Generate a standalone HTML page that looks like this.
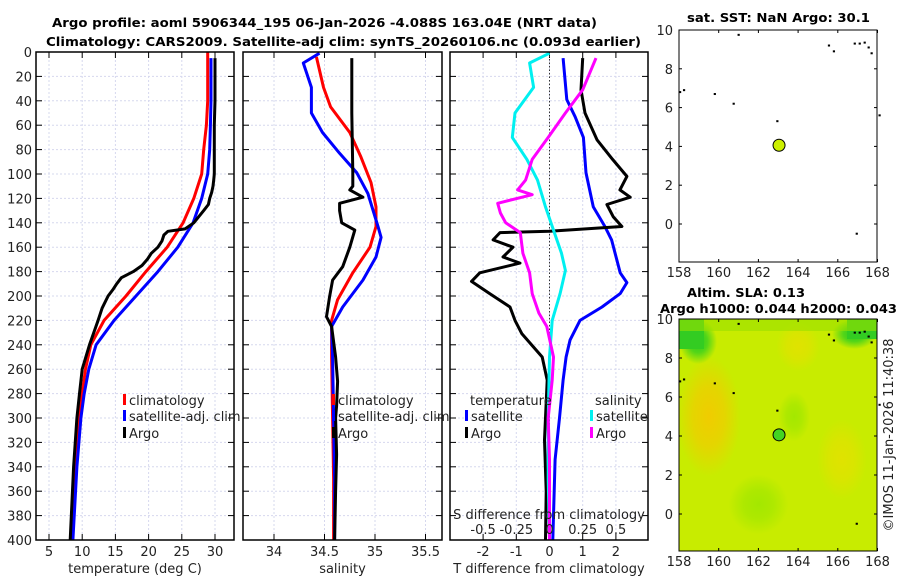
<!DOCTYPE html>
<html><head><meta charset="utf-8">
<style>
body{margin:0;background:#fff;}
svg{display:block;font-family:"DejaVu Sans","Liberation Sans",sans-serif;}
.t{font-size:13px;fill:#222;}
.b{font-weight:bold;font-size:12px;fill:#000;}
</style></head>
<body>
<svg id="fig" width="900" height="580" viewBox="0 0 900 580" xmlns="http://www.w3.org/2000/svg">
<defs>
<clipPath id="clipMap"><rect x="679" y="319" width="198" height="232"/></clipPath>
</defs>
<g>
<text class="b" x="52" y="27" textLength="545" lengthAdjust="spacingAndGlyphs">Argo profile: aoml 5906344_195 06-Jan-2026 -4.088S 163.04E (NRT data)</text>
<text class="b" x="46" y="46" textLength="595" lengthAdjust="spacingAndGlyphs">Climatology: CARS2009. Satellite-adj clim: synTS_20260106.nc (0.093d earlier)</text>
</g>
<g id="layer"></g>
<text class="b" x="687" y="22" textLength="183" lengthAdjust="spacingAndGlyphs">sat. SST: NaN Argo: 30.1</text>
<text class="b" x="687" y="297" textLength="118" lengthAdjust="spacingAndGlyphs">Altim. SLA: 0.13</text>
<text class="b" x="660" y="313" textLength="237" lengthAdjust="spacingAndGlyphs">Argo h1000: 0.044 h2000: 0.043</text>
<text class="t" transform="translate(893,435) rotate(-90)" text-anchor="middle">©IMOS 11-Jan-2026 11:40:38</text>
</svg>
<script>
// ---- data ----
const depthTicks=[0,20,40,60,80,100,120,140,160,180,200,220,240,260,280,300,320,340,360,380,400];
const tempTicks=[5,10,15,20,25,30];
const salTicks=[34,34.5,35,35.5];
const tdiffTicks=[-2,-1,0,1,2];
const sdiffTicks=[-0.5,-0.25,0,0.25,0.5];
const sdiffLabels=["-0.5","-0.25","0","0.25","0.5"];
const lonTicks=[158,160,162,164,166,168];
const latTicks=[0,2,4,6,8,10];

const climDepth=[0,20,40,60,80,100,120,140,160,180,200,220,240,260,280,300,340,400];
const climTemp=[28.9,28.9,28.9,28.7,28.3,28.0,26.8,25.2,22.8,19.6,16.6,13.3,11.3,10.5,10.0,9.6,9.1,8.5];
const satDepth=[5,20,40,60,80,100,120,140,160,180,200,220,240,260,280,300,340,400];
const satTemp=[29.4,29.4,29.4,29.3,29.2,28.9,28.0,26.7,24.4,21.4,18.1,14.8,12.1,11.0,10.3,9.8,9.2,8.6];
const argoTDepth=[5,20,40,60,80,100,105,110,115,120,125,130,140,145,147,150,155,160,165,170,175,180,185,190,195,200,210,220,240,260,280,300,340,400];
const argoTemp=[30.0,30.0,30.0,29.9,29.9,29.9,29.8,29.7,29.5,29.2,29.0,28.3,26.8,25.5,22.9,22.3,22.0,21.4,20.4,19.8,19.0,17.7,15.9,15.2,14.6,13.9,13.0,12.4,11.1,10.0,9.6,9.2,8.7,8.2];

const climSDepth=[4,29,45,66,86,107,127,143,160,181,203,220,250,300,350,400];
const climSal=[34.42,34.49,34.56,34.75,34.86,34.96,35.01,35.01,34.95,34.78,34.63,34.57,34.57,34.58,34.59,34.59];
const satSDepth=[1,9,29,50,66,83,99,116,143,152,168,187,209,225,250,300,350,400];
const satSal=[34.45,34.29,34.37,34.37,34.48,34.65,34.82,34.93,35.03,35.06,35.01,34.88,34.68,34.57,34.58,34.59,34.6,34.6];
const argoSDepth=[5,50,99,110,113,119,124,130,140,146,160,176,187,201,217,225,250,270,290,300,330,360,400];
const argoSal=[34.77,34.77,34.78,34.78,34.75,34.88,34.65,34.65,34.67,34.80,34.75,34.68,34.58,34.55,34.52,34.57,34.61,34.63,34.62,34.61,34.62,34.61,34.6];

const dTsatDepth=[5,39,53,70,99,127,143,154,181,189,198,209,220,236,250,269,300,334,400];
const dTsat=[0.41,0.52,0.77,1.02,1.1,1.32,1.67,1.87,2.13,2.33,2.13,1.58,0.92,0.62,0.5,0.41,0.3,0.17,0.1];
const dTargoDepth=[5,31,50,72,88,102,113,119,125,135,143,147,148,154,160,168,173,181,188,198,209,220,231,250,269,318,360,400];
const dTargo=[1.0,0.95,1.07,1.43,1.9,2.33,2.12,2.43,1.73,1.92,2.18,0,-1.49,-1.7,-1.1,-1.4,-0.89,-2.1,-2.35,-1.8,-1.19,-1.04,-0.83,-0.22,-0.07,-0.15,-0.1,-0.12];
const dSsatDepth=[1,9,29,50,70,88,105,127,146,165,179,198,220,250,300,350,400];
const dSsat=[0,-0.15,-0.12,-0.26,-0.28,-0.17,-0.09,-0.03,0.03,0.09,0.12,0.08,0.02,0,-0.01,-0.01,0];
const dSargoDepth=[5,31,50,70,88,105,113,117,124,132,140,148,165,181,198,214,225,250,269,300,334,400];
const dSargo=[0.35,0.25,0.12,-0.01,-0.13,-0.18,-0.24,-0.13,-0.39,-0.37,-0.33,-0.22,-0.2,-0.15,-0.13,-0.08,-0.02,0.03,0.02,-0.01,0,0];

const argoLon=163.04, argoLat=4.06;
const coastLon=[161.0,165.55,165.8,166.85,167.1,167.35,167.55,167.7,159.8,160.75,162.95,168.1,166.95,158.05,158.25];
const coastLat=[9.75,9.2,8.9,9.3,9.3,9.35,9.1,8.8,6.7,6.2,5.3,5.6,-0.5,6.8,6.9];

// ---- drawing ----
const NS='http://www.w3.org/2000/svg';
const layer=document.getElementById('layer');
function mk(tag,attrs,parent){const e=document.createElementNS(NS,tag);for(const k in attrs)e.setAttribute(k,attrs[k]);(parent||layer).appendChild(e);return e;}
function txt(x,y,s,anchor,parent,cls){const e=mk('text',{x:x,y:y,'text-anchor':anchor||'middle',class:cls||'t'},parent);e.textContent=s;return e;}

const Y0=52,Y1=540;
const yD=d=>Y0+(Y1-Y0)*d/400;
const panels=[
 {x0:36,x1:234,xs:v=>49+(v-5)*6.64,ticks:tempTicks,label:'temperature (deg C)',name:'temperature-panel'},
 {x0:243,x1:442,xs:v=>274+(v-34)*101,ticks:salTicks,label:'salinity',name:'salinity-panel'},
 {x0:450,x1:648,xs:v=>549.5+v*33.2,ticks:tdiffTicks,label:'T difference from climatology',name:'difference-panel'}
];
const sx=v=>549.5+v*132.8;

panels.forEach((p,pi)=>{
 const g=mk('g',{});
 
 
 p.ticks.forEach(t=>{const x=p.xs(t);const l=mk('line',{x1:x,x2:x,y1:Y0,y2:Y1,stroke:'#d6d8ee','stroke-dasharray':'2,2','stroke-width':1},g);
  });
 depthTicks.forEach(d=>{const y=yD(d);mk('line',{x1:p.x0,x2:p.x1,y1:y,y2:y,stroke:'#d6d8ee','stroke-dasharray':'2,2','stroke-width':1},g);
  mk('line',{x1:p.x0,x2:p.x0+6,y1:y,y2:y,stroke:'#000'},g);mk('line',{x1:p.x1-6,x2:p.x1,y1:y,y2:y,stroke:'#000'},g);
  if(pi===0){const t=txt(32,y+5,String(d),'end',g);}});
 p.ticks.forEach(t=>{const x=p.xs(t);mk('line',{x1:x,x2:x,y1:Y1,y2:Y1-6,stroke:'#000'},g);mk('line',{x1:x,x2:x,y1:Y0,y2:Y0+6,stroke:'#000'},g);
  const l=txt(x,556,String(t),'middle',g);});
 const xl=txt((p.x0+p.x1)/2,573,p.label,'middle',g);
 
 p.g=g;
});
mk('line',{x1:549.5,x2:549.5,y1:Y0,y2:Y1,stroke:'#333','stroke-dasharray':'1.5,2','stroke-width':1},panels[2].g);

function series(g,depths,vals,xs,color,name){
 const pts=depths.map((d,i)=>xs(vals[i]).toFixed(1)+','+yD(d).toFixed(1)).join(' ');
 const e=mk('polyline',{points:pts,fill:'none',stroke:color,'stroke-width':3,'stroke-linejoin':'round'},g);
 
 
}
const P=panels;
series(P[0].g,climDepth,climTemp,P[0].xs,'#ff0000','climatology-temp-line');
series(P[0].g,satDepth,satTemp,P[0].xs,'#0000ff','satellite-temp-line');
series(P[0].g,argoTDepth,argoTemp,P[0].xs,'#000','argo-temp-line');
series(P[1].g,climSDepth,climSal,P[1].xs,'#ff0000','climatology-sal-line');
series(P[1].g,satSDepth,satSal,P[1].xs,'#0000ff','satellite-sal-line');
series(P[1].g,argoSDepth,argoSal,P[1].xs,'#000','argo-sal-line');
series(P[2].g,dTsatDepth,dTsat,P[2].xs,'#0000ff','satellite-tdiff-line');
series(P[2].g,dTargoDepth,dTargo,P[2].xs,'#000','argo-tdiff-line');
series(P[2].g,dSsatDepth,dSsat,sx,'#00f0f0','satellite-sdiff-line');
series(P[2].g,dSargoDepth,dSargo,sx,'#ff00ff','argo-sdiff-line');

panels.forEach(p=>{mk('rect',{x:p.x0,y:Y0,width:p.x1-p.x0,height:Y1-Y0,fill:'none',stroke:'#000','stroke-width':1.5},p.g);});

function legend(g,x,y,color,label){
 const lg=mk('g',{},g);
 
 
 mk('rect',{x:x-6,y:y-11,width:3,height:11,fill:color},lg);
 txt(x,y,label,'start',lg);
}
legend(P[0].g,129,405,'#ff0000','climatology');
legend(P[0].g,129,421,'#0000ff','satellite-adj. clim');
legend(P[0].g,129,438,'#000','Argo');
legend(P[1].g,338,405,'#ff0000','climatology');
legend(P[1].g,338,421,'#0000ff','satellite-adj. clim');
legend(P[1].g,338,438,'#000','Argo');
txt(470,405,'temperature','start',P[2].g);
txt(595,405,'salinity','start',P[2].g);
legend(P[2].g,471,421,'#0000ff','satellite');
legend(P[2].g,471,438,'#000','Argo');
legend(P[2].g,596,421,'#00f0f0','satellite');
legend(P[2].g,596,438,'#ff00ff','Argo');
const st=txt(549,519,'S difference from climatology','middle',P[2].g);

sdiffTicks.forEach((t,i)=>{const l=txt(sx(t),534,sdiffLabels[i],'middle',P[2].g);});

function map(top,bottom,name,fillDot,heat){
 const mx0=679,mx1=877;
 const lx=v=>679+(v-158)*19.85;
 const ly=v=>top+(10-v)*(bottom===262?19.4:19.5);
 const g=mk('g',{});
 
 
 if(heat){
  const hg=mk('g',{'clip-path':'url(#clipMap)'},g);
  const defs=mk('defs',{},g);
  const mkGrad=(id,c,o)=>{const rg=mk('radialGradient',{id:id},defs);mk('stop',{offset:'0','stop-color':c,'stop-opacity':o},rg);mk('stop',{offset:'0.5','stop-color':c,'stop-opacity':o*0.7},rg);mk('stop',{offset:'1','stop-color':c,'stop-opacity':'0'},rg);};
  mkGrad('gOr','#f0cc00',1);mkGrad('gGr','#22cc22',1);mkGrad('gLg','#9ae600',0.8);mkGrad('gYl','#e6e000',0.8);
  mk('rect',{x:mx0,y:top,width:mx1-mx0,height:bottom-top,fill:'#c8ec00'},hg);
  mk('ellipse',{cx:lx(159.5),cy:ly(5),rx:32,ry:60,fill:'url(#gOr)'},hg);
  mk('ellipse',{cx:lx(166.2),cy:ly(2.8),rx:25,ry:40,fill:'url(#gYl)'},hg);
  mk('ellipse',{cx:lx(164),cy:ly(8.6),rx:22,ry:25,fill:'url(#gYl)'},hg);
  mk('ellipse',{cx:lx(163.8),cy:ly(5),rx:16,ry:25,fill:'url(#gLg)'},hg);
  mk('ellipse',{cx:lx(162),cy:ly(0.5),rx:30,ry:30,fill:'url(#gLg)'},hg);
  mk('rect',{x:mx0,y:top,width:38,height:45,fill:'url(#gGr)'},hg);
  mk('rect',{x:mx0,y:top,width:25,height:30,fill:'#33cc22'},hg);
  mk('rect',{x:mx1-45,y:top,width:45,height:30,fill:'url(#gGr)'},hg);
  mk('rect',{x:mx1-30,y:top,width:30,height:20,fill:'#33cc22'},hg);
  mk('rect',{x:mx0,y:top,width:mx1-mx0,height:12,fill:'#99e000',opacity:0.6},hg);
 }
 coastLon.forEach((lo,i)=>{const c=mk('rect',{x:lx(lo)-1,y:ly(coastLat[i])-1,width:2.2,height:2,fill:'#000'},g);
  });
 const dot=mk('circle',{cx:lx(argoLon),cy:ly(argoLat),r:6,fill:fillDot,stroke:'#000','stroke-width':1},g);
 
 
 mk('rect',{x:mx0,y:top,width:mx1-mx0,height:bottom-top,fill:'none',stroke:'#000','stroke-width':1},g);
 lonTicks.forEach(t=>{const x=lx(t);mk('line',{x1:x,x2:x,y1:bottom,y2:bottom-3,stroke:'#000'},g);mk('line',{x1:x,x2:x,y1:top,y2:top+3,stroke:'#000'},g);
  const l=txt(x,bottom+15,String(t),'middle',g);});
 latTicks.forEach(t=>{const y=ly(t);mk('line',{x1:mx0,x2:mx0+3,y1:y,y2:y,stroke:'#000'},g);mk('line',{x1:mx1-3,x2:mx1,y1:y,y2:y,stroke:'#000'},g);
  const l=txt(673,y+5,String(t),'end',g);});
}
map(30,262,'sst-map','#ccf000',false);
map(319,551,'sla-map','#44d422',true);
</script>
</body></html>
